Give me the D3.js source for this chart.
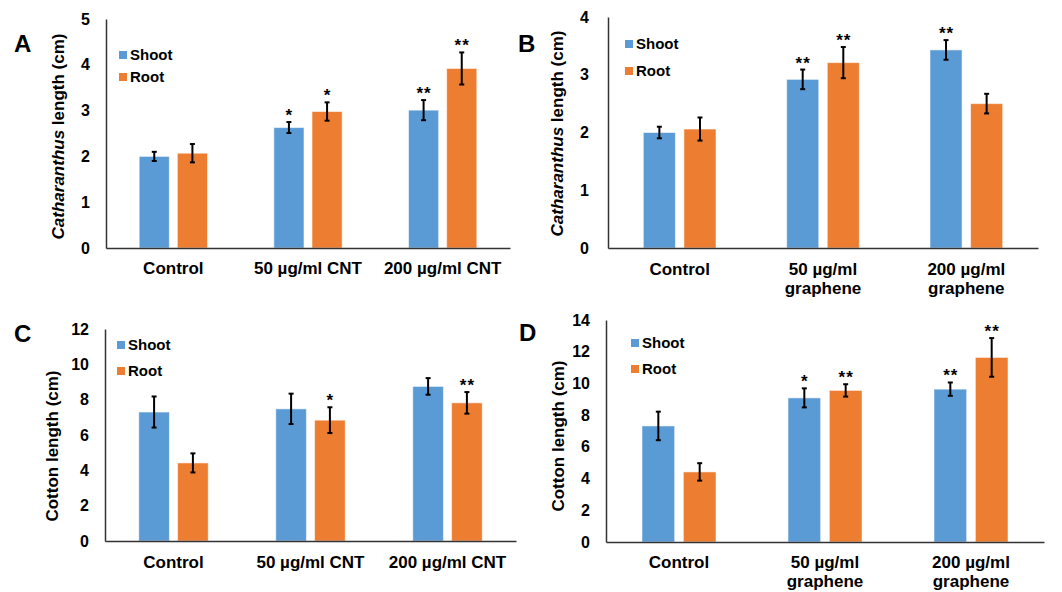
<!DOCTYPE html>
<html>
<head>
<meta charset="utf-8">
<script src="https://cdn.jsdelivr.net/npm/d3@7"></script>
<style>
  body { margin: 0; background: #fff; }
  svg { font-family: "Liberation Sans", Arial, sans-serif; font-weight: bold; }
</style>
</head>
<body>
<svg id="chart" width="1062" height="592"></svg>
<script>
// Categories and series
const series = ['Shoot', 'Root'];
const groupsCNT = ['Control', '50 µg/ml CNT', '200 µg/ml CNT'];
const groupsGraphene = ['Control', '50 µg/ml\ngraphene', '200 µg/ml\ngraphene'];

// Panel A: Catharanthus, CNT
const aShoot = [2.0, 2.63, 3.01];
const aShootErr = [0.1, 0.12, 0.22];
const aRoot = [2.07, 2.98, 3.92];
const aRootErr = [0.2, 0.2, 0.35];
const aShootStars = ['', '*', '**'];
const aRootStars = ['', '*', '**'];
const aTicks = [0, 1, 2, 3, 4, 5];

// Panel B: Catharanthus, graphene
const bShoot = [2.0, 2.92, 3.43];
const bShootErr = [0.1, 0.17, 0.17];
const bRoot = [2.06, 3.21, 2.5];
const bRootErr = [0.2, 0.27, 0.17];
const bShootStars = ['', '**', '**'];
const bRootStars = ['', '**', ''];
const bTicks = [0, 1, 2, 3, 4];

// Panel C: Cotton, CNT
const cShoot = [7.3, 7.48, 8.75];
const cShootErr = [0.88, 0.86, 0.47];
const cRoot = [4.42, 6.84, 7.82];
const cRootErr = [0.54, 0.73, 0.61];
const cShootStars = ['', '', ''];
const cRootStars = ['', '*', '**'];
const cTicks = [0, 2, 4, 6, 8, 10, 12];

// Panel D: Cotton, graphene
const dShoot = [7.32, 9.09, 9.64];
const dShootErr = [0.9, 0.6, 0.42];
const dRoot = [4.42, 9.56, 11.64];
const dRootErr = [0.55, 0.39, 1.22];
const dShootStars = ['', '*', '**'];
const dRootStars = ['', '**', '**'];
const dTicks = [0, 2, 4, 6, 8, 10, 12, 14];

const colors = { Shoot: '#5B9BD5', Root: '#ED7D31' };
const svg = d3.select('#chart');

function drawPanel(p) {
  const g = svg.append('g');

  const x = d3.scaleBand().domain(p.groups).range([p.x0, p.x1]);
  const xs = d3.scaleBand().domain(series).range([0, x.bandwidth()])
    .paddingInner(0.21).paddingOuter(0.87);
  const y = d3.scaleLinear().domain([0, p.max]).range([p.yBottom, p.yTop]);

  // Rows of data, one per bar
  const rows = [];
  p.groups.forEach((grp, i) => {
    rows.push({ grp, s: 'Shoot', v: p.shoot[i], e: p.shootErr[i], star: p.shootStars[i] });
    rows.push({ grp, s: 'Root', v: p.root[i], e: p.rootErr[i], star: p.rootStars[i] });
  });

  // Bars
  g.selectAll('rect.bar')
    .data(rows)
    .enter()
    .append('rect')
    .attr('class', 'bar')
    .attr('x', d => x(d.grp) + xs(d.s))
    .attr('y', d => y(d.v))
    .attr('width', xs.bandwidth())
    .attr('height', d => y(0) - y(d.v))
    .attr('fill', d => colors[d.s])
    .attr('stroke', 'rgba(255,255,255,0.55)')
    .attr('stroke-width', 1);

  // Error bars
  const cx = d => x(d.grp) + xs(d.s) + xs.bandwidth() / 2;
  const eb = g.selectAll('g.err').data(rows).enter().append('g').attr('class', 'err')
    .attr('stroke', '#000').attr('stroke-width', 2);
  eb.append('line')
    .attr('x1', cx).attr('x2', cx)
    .attr('y1', d => y(d.v - d.e)).attr('y2', d => y(d.v + d.e));
  eb.append('line')
    .attr('x1', d => cx(d) - 2.5).attr('x2', d => cx(d) + 2.5)
    .attr('y1', d => y(d.v + d.e)).attr('y2', d => y(d.v + d.e));
  eb.append('line')
    .attr('x1', d => cx(d) - 2.5).attr('x2', d => cx(d) + 2.5)
    .attr('y1', d => y(d.v - d.e)).attr('y2', d => y(d.v - d.e));

  // Significance stars
  g.selectAll('text.star')
    .data(rows.filter(d => d.star))
    .enter()
    .append('text')
    .attr('class', 'star')
    .attr('x', d => cx(d) + 0.5)
    .attr('y', d => y(d.v + d.e) - 1)
    .attr('text-anchor', 'middle')
    .attr('font-size', 17)
    .attr('letter-spacing', 1)
    .text(d => d.star);

  // Y axis
  const yAxis = g.append('g')
    .attr('transform', `translate(${p.x0},0)`)
    .call(d3.axisLeft(y).tickValues(p.ticks).tickSize(0).tickPadding(p.tickPad).tickFormat(d3.format('d')));
  yAxis.select('.domain').attr('stroke', '#333').attr('stroke-width', 1.5);
  yAxis.selectAll('text')
    .attr('font-size', 16)
    .attr('font-family', '"Liberation Sans", Arial, sans-serif')
    .attr('font-weight', 'bold')
    .attr('fill', '#000');

  // X axis line
  const xAxis = g.append('g')
    .attr('transform', `translate(0,${p.yBottom})`)
    .call(d3.axisBottom(x).tickSize(0).tickFormat(''));
  xAxis.select('.domain').attr('stroke', '#333').attr('stroke-width', 1.5);

  // X labels (may wrap to two lines)
  g.selectAll('text.xlab')
    .data(p.groups)
    .enter()
    .append('text')
    .attr('class', 'xlab')
    .attr('text-anchor', 'middle')
    .attr('font-size', 17)
    .attr('y', p.yBottom + p.labOffset)
    .each(function (d) {
      const t = d3.select(this);
      d.split('\n').forEach((line, i) => {
        t.append('tspan')
          .attr('x', x(d) + x.bandwidth() / 2)
          .attr('dy', i === 0 ? 0 : 19)
          .text(line);
      });
    });

  // Y title
  const ty = (p.yTop + p.yBottom) / 2 + p.titleDy;
  const title = g.append('text')
    .attr('transform', `translate(${p.titleX},${ty}) rotate(-90)`)
    .attr('text-anchor', 'middle')
    .attr('font-size', 17);
  if (p.italic) {
    title.append('tspan').attr('font-style', 'italic').text(p.italic);
  }
  title.append('tspan').text(p.title);

  // Legend
  series.forEach((s, i) => {
    const ly = p.legY + i * p.legGap;
    g.append('rect')
      .attr('x', p.legX).attr('y', ly)
      .attr('width', 8).attr('height', 8)
      .attr('fill', colors[s]);
    g.append('text')
      .attr('x', p.legX + 11).attr('y', ly + 9)
      .attr('font-size', 15)
      .text(s);
  });

  // Panel letter
  g.append('text')
    .attr('x', p.letterX).attr('y', p.letterY)
    .attr('font-size', 24)
    .text(p.letter);
}

drawPanel({
  letter: 'A', letterX: 14, letterY: 52,
  groups: groupsCNT, shoot: aShoot, shootErr: aShootErr, root: aRoot, rootErr: aRootErr,
  shootStars: aShootStars, rootStars: aRootStars, ticks: aTicks, max: 5,
  x0: 106, x1: 510, yTop: 19, yBottom: 248, tickPad: 16,
  italic: 'Catharanthus', title: ' length (cm)', titleX: 64, titleDy: 3,
  legX: 119, legY: 51, legGap: 22, labOffset: 26
});

drawPanel({
  letter: 'B', letterX: 518, letterY: 52,
  groups: groupsGraphene, shoot: bShoot, shootErr: bShootErr, root: bRoot, rootErr: bRootErr,
  shootStars: bShootStars, rootStars: bRootStars, ticks: bTicks, max: 4,
  x0: 608, x1: 1038, yTop: 17, yBottom: 248, tickPad: 19,
  italic: 'Catharanthus', title: ' length (cm)', titleX: 563, titleDy: 1,
  legX: 625, legY: 40, legGap: 27, labOffset: 27
});

drawPanel({
  letter: 'C', letterX: 14, letterY: 342,
  groups: groupsCNT, shoot: cShoot, shootErr: cShootErr, root: cRoot, rootErr: cRootErr,
  shootStars: cShootStars, rootStars: cRootStars, ticks: cTicks, max: 12,
  x0: 105, x1: 516, yTop: 329, yBottom: 541, tickPad: 16,
  italic: '', title: 'Cotton length (cm)', titleX: 58, titleDy: 11,
  legX: 117, legY: 341, legGap: 26, labOffset: 27
});

drawPanel({
  letter: 'D', letterX: 519, letterY: 341,
  groups: groupsGraphene, shoot: dShoot, shootErr: dShootErr, root: dRoot, rootErr: dRootErr,
  shootStars: dShootStars, rootStars: dRootStars, ticks: dTicks, max: 14,
  x0: 606, x1: 1044, yTop: 320, yBottom: 542, tickPad: 16,
  italic: '', title: 'Cotton length (cm)', titleX: 564, titleDy: 5,
  legX: 631, legY: 339, legGap: 26, labOffset: 26
});
</script>
</body>
</html>
